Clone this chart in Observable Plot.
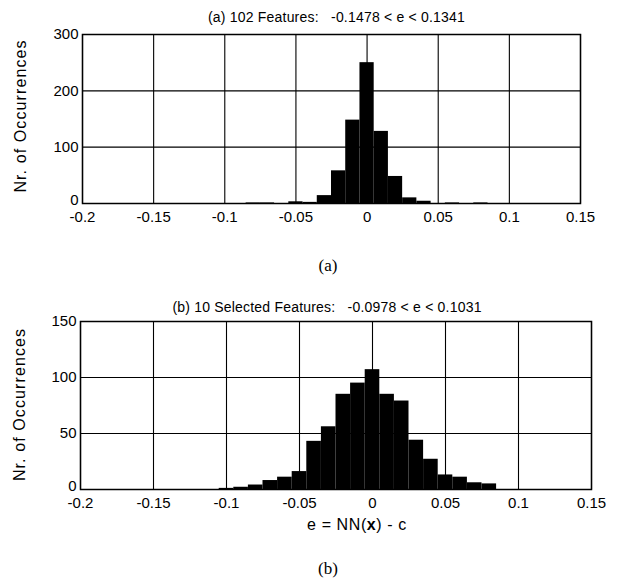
<!DOCTYPE html>
<html>
<head>
<meta charset="utf-8">
<script src="https://cdn.jsdelivr.net/npm/d3@7"></script>
<script src="https://cdn.jsdelivr.net/npm/@observablehq/plot@0.6"></script>
<style>
  html, body { margin: 0; padding: 0; background: #fff; }
  #wrap { position: relative; width: 618px; height: 582px; background: #fff; overflow: hidden;
          font-family: "Liberation Sans", Arial, sans-serif; color: #000; }
  .panel { position: absolute; left: 0; }
  .cap { position: absolute; transform: translate(-50%, -50%); font-family: "Liberation Serif", "Times New Roman", serif;
         font-size: 17px; line-height: 1; white-space: nowrap; }
  .xl { position: absolute; transform: translate(-50%, -50%); font-size: 16px; line-height: 1; white-space: nowrap; letter-spacing: 0.6px; }
</style>
</head>
<body>
<div id="wrap">
  <div id="pa" class="panel" style="top:0px"></div>
  <div class="cap" style="left:328px; top:265px">(a)</div>
  <div id="pb" class="panel" style="top:290px"></div>
  <div class="xl" style="left:357px; top:525px">e = NN(<b>x</b>) - c</div>
  <div class="cap" style="left:328px; top:568px">(b)</div>
</div>
<script>
// ---- data ----
const xTicks = [-0.2, -0.15, -0.1, -0.05, 0, 0.05, 0.1, 0.15];
const yTicksA = [0, 100, 200, 300];
const yTicksB = [0, 50, 100, 150];
const binWidth = 0.01;

const binsA   = [-0.08, -0.07, -0.05, -0.04, -0.03, -0.02, -0.01, 0, 0.01, 0.02, 0.03, 0.04, 0.06, 0.08];
const countsA = [1, 1, 3, 2, 14, 58, 148, 250, 128, 48, 10, 4, 1, 1];

const binsB   = [-0.1, -0.09, -0.08, -0.07, -0.06, -0.05, -0.04, -0.03, -0.02, -0.01, 0, 0.01, 0.02, 0.03, 0.04, 0.05, 0.06, 0.07, 0.08];
const countsB = [1, 2, 4, 8, 11, 16, 43, 56, 85, 95, 107, 85, 79, 44, 27, 13, 11, 6, 5];

const titleA = "(a) 102 Features:\u00a0\u00a0\u00a0-0.1478 < e < 0.1341";
const titleB = "(b) 10 Selected Features:\u00a0\u00a0\u00a0-0.0978 < e < 0.1031";
const yLabel = "Nr. of Occurrences";

function histo(o) {
  const data = o.bins.map((c, i) => ({x1: c - binWidth / 2, x2: c + binWidth / 2, n: o.counts[i]}));
  const yMin = o.yTicks[0];
  const svg = Plot.plot({
    width: 618,
    height: o.height,
    marginTop: o.marginTop,
    marginBottom: o.marginBottom,
    marginLeft: o.marginLeft,
    marginRight: o.marginRight,
    style: {fontFamily: "'Liberation Sans', Arial, sans-serif", background: "white", color: "black", overflow: "visible"},
    x: {domain: [xTicks[0], xTicks[xTicks.length - 1]]},
    y: {domain: [yMin, o.yTicks[o.yTicks.length - 1]]},
    marks: [
      Plot.gridX(xTicks, {stroke: "black", strokeOpacity: 1, strokeWidth: 1.1}),
      Plot.gridY(o.yTicks, {stroke: "black", strokeOpacity: 1, strokeWidth: 1.1}),
      Plot.rectY(data, {x1: "x1", x2: "x2", y: "n", fill: "black", inset: 0}),
      Plot.frame({stroke: "black", strokeWidth: 1.5}),
      Plot.axisX(xTicks, {tickSize: 0, tickPadding: 8, tickFormat: d => String(d), fontSize: 15, label: null}),
      Plot.axisY(o.yTicks.filter(d => d !== yMin), {tickSize: 0, tickPadding: 4, tickFormat: d => String(d), fontSize: 15, label: null}),
      Plot.axisY([yMin], {tickSize: 0, tickPadding: 4, tickFormat: d => String(d), fontSize: 15, label: null, dy: -3}),
      Plot.text([o.title], {frameAnchor: "top", dx: o.titleDx, dy: o.titleDy, lineAnchor: "middle", fontSize: 14}),
      Plot.text([yLabel], {frameAnchor: "left", dx: o.labelDx, dy: o.labelDy, rotate: -90, lineAnchor: "middle", textAnchor: "middle", fontSize: 16})
    ]
  });
  svg.querySelectorAll("text").forEach(t => {
    if (t.textContent === yLabel) t.setAttribute("letter-spacing", "1.1");
    if (t.textContent === o.title) t.setAttribute("letter-spacing", "0.2");
  });
  return svg;
}

document.getElementById("pa").appendChild(histo({
  bins: binsA, counts: countsA, yTicks: yTicksA, title: titleA,
  height: 240, marginTop: 34, marginBottom: 37, marginLeft: 82, marginRight: 38,
  titleDx: 5, titleDy: -17, labelDx: -62, labelDy: -3
}));
document.getElementById("pb").appendChild(histo({
  bins: binsB, counts: countsB, yTicks: yTicksB, title: titleB,
  height: 230, marginTop: 31, marginBottom: 31, marginLeft: 80, marginRight: 27,
  titleDx: -9, titleDy: -14, labelDx: -61, labelDy: -1
}));
</script>
</body>
</html>
